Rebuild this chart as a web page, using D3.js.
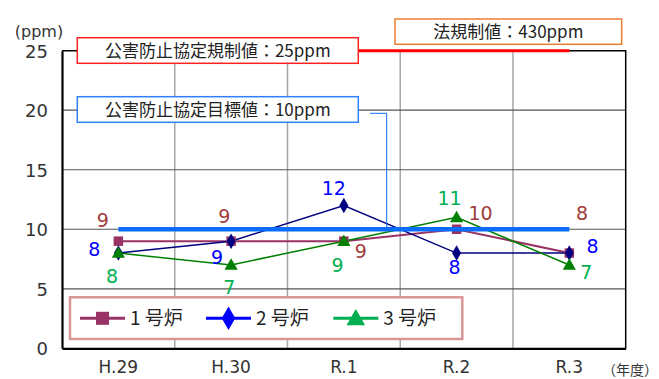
<!DOCTYPE html>
<html><head><meta charset="utf-8">
<script src="https://cdn.jsdelivr.net/npm/d3@7"></script>
<style>
html,body{margin:0;padding:0;background:#fff;}
svg{display:block;}
text{font-family:"DejaVu Sans","Noto Sans CJK JP",sans-serif;}
.jp{font-family:"Noto Sans CJK JP","DejaVu Sans",sans-serif;}
</style></head>
<body>
<script>
// ---- data ----
const categories = ["H.29", "H.30", "R.1", "R.2", "R.3"];
const seriesNames = ["1 号炉", "2 号炉", "3 号炉"];
const unit1 = [9, 9, 9, 10, 8];
const unit2 = [8, 9, 12, 8, 8];
const unit3 = [8, 7, 9, 11, 7];
const yTicks = [0, 5, 10, 15, 20, 25];
const agreementLimit = 25;   // 公害防止協定規制値
const agreementTarget = 10;  // 公害防止協定目標値
const legalLimitText = "法規制値：430ppm";
const limitText = "公害防止協定規制値：25ppm";
const targetText = "公害防止協定目標値：10ppm";
const titleText = "（２）窒素酸化物濃度の推移　（各年度の年平均値）";

// ---- layout / style (not data) ----
const W = 659, H = 379;
const plot = {left: 62, right: 625.7, top: 50.7, bottom: 348.3};
const lineColors = ["#993366", "#000080", "#008000"];
const legendColors = ["#993366", "#0000ff", "#00b050"];
const labelColors = ["#a03c3c", "#0000ff", "#00b050"];
// label offsets (dx, dy) from the point, per series
const labelOffsets = [
  [[-15.6,-21],[-6.7,-24.5],[17,10.5],[24,-16],[12.7,-39.8]],
  [[-24,-3.8],[-14,16],[-10,-17],[-2,14],[23.3,-6.4]],
  [[-6.3,23.6],[-1.7,22.3],[-6.3,23.8],[-7,-19],[17,7.7]]
];

const svg = d3.select("body").append("svg").attr("width", W).attr("height", H);

const x = d3.scaleBand().domain(categories).range([plot.left, plot.right]).padding(0);
const cx = c => x(c) + x.bandwidth() / 2;
const y = d3.scaleLinear().domain([0, 25]).range([plot.bottom, plot.top]);

// title (cut off at the top edge, as in the reference)
svg.append("text").attr("class","jp").attr("x", 343).attr("y", -3)
  .attr("text-anchor","middle").attr("font-size", 20).attr("fill", "#999").text(titleText);

// vertical gridlines
svg.append("g").selectAll("line").data(categories.slice(1)).join("line")
  .attr("x1", d => x(d)).attr("x2", d => x(d))
  .attr("y1", plot.top).attr("y2", plot.bottom)
  .attr("stroke", "#a6a6a6").attr("stroke-width", 1.5);
// horizontal gridlines
svg.append("g").selectAll("line").data(yTicks.filter(t => t > 0 && t < 25)).join("line")
  .attr("x1", plot.left).attr("x2", plot.right)
  .attr("y1", d => y(d)).attr("y2", d => y(d))
  .attr("stroke", "#555").attr("stroke-width", 1.2);

// frame: top and right
svg.append("path")
  .attr("d", `M${plot.left},${y(25)}H${plot.right}V${plot.bottom}`)
  .attr("fill", "none").attr("stroke", "#000").attr("stroke-width", 1.5);

// y axis
const yAxis = svg.append("g").attr("transform", `translate(${plot.left},0)`)
  .call(d3.axisLeft(y).tickValues(yTicks).tickSize(0).tickPadding(14).tickFormat(d3.format("d")));
yAxis.select(".domain").attr("stroke", "#000").attr("stroke-width", 2.2);
yAxis.selectAll("text").attr("font-size", 18).attr("fill", "#333")
  .attr("font-family", "DejaVu Sans").attr("dy", "0.36em");

// x axis
const xAxis = svg.append("g").attr("transform", `translate(0,${plot.bottom})`)
  .call(d3.axisBottom(x).tickSize(0).tickPadding(13));
xAxis.select(".domain").attr("stroke", "#000").attr("stroke-width", 2.2);
xAxis.selectAll("text").attr("font-size", 17).attr("fill", "#333").attr("font-family", "DejaVu Sans");

// unit labels
svg.append("text").attr("x", 39).attr("y", 37).attr("text-anchor","middle")
  .attr("font-size", 16).attr("fill", "#333").text("(ppm)");
svg.append("text").attr("class","jp").attr("x", 602).attr("y", 375)
  .attr("font-size", 14).attr("fill", "#333").text("（年度）");

// series
const allSeries = [unit1, unit2, unit3];
const lineGen = d3.line().x((d, i) => cx(categories[i])).y(d => y(d));
const sym = [d3.symbolSquare, d3.symbolDiamond, d3.symbolTriangle];
const symSize = [90, 70, 75];
const lineW = [2, 1.5, 1.5];

allSeries.forEach((vals, s) => {
  svg.append("path").datum(vals).attr("d", lineGen)
    .attr("fill", "none").attr("stroke", lineColors[s]).attr("stroke-width", lineW[s]);
});
allSeries.forEach((vals, s) => {
  svg.append("g").selectAll("path").data(vals).join("path")
    .attr("d", d3.symbol(sym[s], symSize[s]))
    .attr("transform", (d, i) => `translate(${cx(categories[i])},${y(d) + (s === 2 ? 1 : 0)})`)
    .attr("fill", lineColors[s]);
});

// target line (10) and agreement limit line (25)
const xs = [cx(categories[0]), cx(categories[categories.length - 1])];
svg.append("line").attr("x1", xs[0]).attr("x2", xs[1])
  .attr("y1", y(agreementTarget)).attr("y2", y(agreementTarget))
  .attr("stroke", "#0a6cff").attr("stroke-width", 4.5);
svg.append("line").attr("x1", xs[0]).attr("x2", xs[1])
  .attr("y1", y(agreementLimit)).attr("y2", y(agreementLimit))
  .attr("stroke", "#ff0000").attr("stroke-width", 3);

// connector from target box to target line
svg.append("path")
  .attr("d", `M370,113.3H386.7V${y(agreementTarget) - 2}`)
  .attr("fill", "none").attr("stroke", "#0a6cff").attr("stroke-width", 1);

// data labels
allSeries.forEach((vals, s) => {
  svg.append("g").selectAll("text").data(vals).join("text")
    .attr("x", (d, i) => cx(categories[i]) + labelOffsets[s][i][0])
    .attr("y", (d, i) => y(d) + labelOffsets[s][i][1] + 6.8)
    .attr("text-anchor", "middle").attr("font-size", 19)
    .attr("fill", labelColors[s]).text(d => d);
});

// annotation boxes
function box(x0, y0, x1, y1, stroke, txt, fs) {
  svg.append("rect").attr("x", x0).attr("y", y0).attr("width", x1 - x0).attr("height", y1 - y0)
    .attr("fill", "#fff").attr("stroke", stroke).attr("stroke-width", 1.5);
  svg.append("text").attr("class","jp").attr("x", (x0 + x1) / 2).attr("y", (y0 + y1) / 2 + fs * 0.36)
    .attr("text-anchor", "middle").attr("font-size", fs).attr("fill", "#222").text(txt);
}
box(77.3, 37.7, 358.3, 63.3, "#ff2020", limitText, 17);
box(77.3, 96.7, 358.3, 122.3, "#2f80ff", targetText, 17);
box(395, 19, 621.7, 44.3, "#ed7d31", legalLimitText, 17);

// legend
const lg = svg.append("g");
lg.append("rect").attr("x", 70).attr("y", 297.3).attr("width", 392.3).attr("height", 41.7)
  .attr("fill", "#fff").attr("stroke", "#d99694").attr("stroke-width", 2.5);
const legX = [80, 206, 333.3];
const legY = 318.3;
seriesNames.forEach((name, s) => {
  const g = lg.append("g");
  g.append("line").attr("x1", legX[s]).attr("x2", legX[s] + 45).attr("y1", legY).attr("y2", legY)
    .attr("stroke", legendColors[s]).attr("stroke-width", 3);
  g.append("path").attr("d", d3.symbol(sym[s], [170, 160, 150][s]))
    .attr("transform", `translate(${legX[s] + 22.5},${legY + (s === 2 ? 1.5 : 0)})`)
    .attr("fill", legendColors[s]);
  g.append("text").attr("class","jp").attr("x", legX[s] + 50).attr("y", legY + 7)
    .attr("font-size", 19).attr("fill", "#222").text(name);
});
</script>
</body></html>
